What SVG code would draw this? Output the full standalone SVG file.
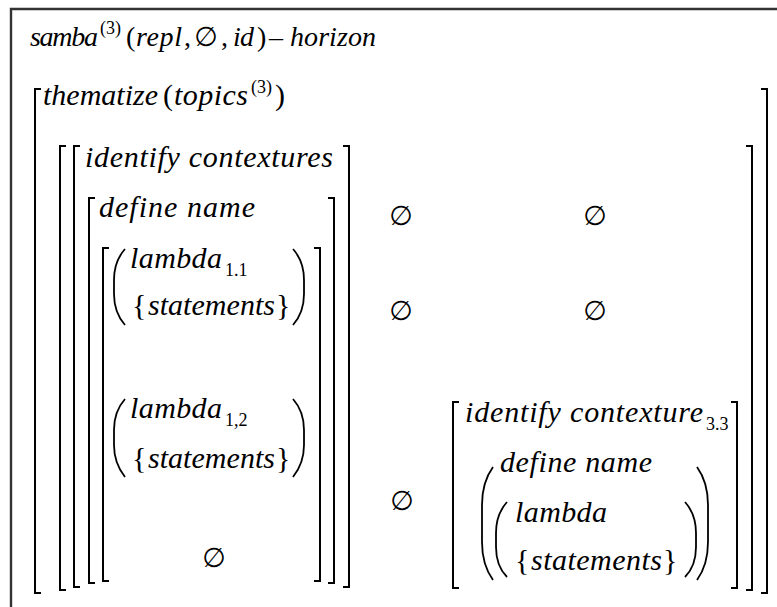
<svg xmlns="http://www.w3.org/2000/svg" width="777" height="607" viewBox="0 0 777 607">
<style>
text{font-family:"Liberation Serif","Times New Roman",serif;font-size:30px;font-style:italic;fill:#000}
.u{font-style:normal}
.sm{font-size:18px;font-style:normal}
.tt{font-size:28px}
.e{font-family:"DejaVu Sans",sans-serif;font-size:27px;font-style:normal;text-anchor:middle}
.br{fill:none;stroke:#000;stroke-width:2}
.pa{fill:none;stroke:#000;stroke-width:1.8}
.fr{fill:none;stroke:#333;stroke-width:2.4}
</style>
<rect width="777" height="607" fill="#fff"/>
<path class="fr" d="M11,607 V9 H777"/>

<g id="title">
<text class="tt" y="46"><tspan x="30" textLength="68">samba</tspan><tspan class="sm" x="100" y="34">(3)</tspan><tspan class="u" x="126" y="46">(</tspan><tspan x="136" textLength="46">repl</tspan><tspan class="u" x="184">,</tspan><tspan class="u" x="221">,</tspan><tspan x="233" textLength="21">id</tspan><tspan class="u" x="257">)</tspan><tspan class="u" x="269">–</tspan><tspan x="290" textLength="86">horizon</tspan></text>
<text class="e" x="206" y="46">∅</text>
</g>

<g id="thematize">
<text y="105"><tspan x="43" textLength="115">thematize</tspan><tspan class="u" x="163">(</tspan><tspan x="174" textLength="74">topics</tspan><tspan class="sm" x="251" y="93">(3)</tspan><tspan class="u" x="275" y="105">)</tspan></text>
</g>

<g id="brackets">
<path class="br" d="M41,89 H35 V593 H41"/>
<path class="br" d="M761,89 H767 V593 H761"/>
<path class="br" d="M66,146 H60 V590 H66"/>
<path class="br" d="M746,146 H752 V590 H746"/>
<path class="br" d="M80,146 H74 V587 H80"/>
<path class="br" d="M343,146 H349 V587 H343"/>
<path class="br" d="M95,198 H89 V583 H95"/>
<path class="br" d="M328,198 H334 V583 H328"/>
<path class="br" d="M109,248 H103 V581 H109"/>
<path class="br" d="M314,248 H320 V581 H314"/>
<path class="br" d="M459,402 H453 V588 H459"/>
<path class="br" d="M731,402 H737 V588 H731"/>
</g>

<g id="left-column">
<text x="85" y="167" textLength="248">identify contextures</text>
<text x="99" y="217" textLength="156">define name</text>
<g id="lambda11">
<path class="pa" d="M125,249 C117,258 114,268 114,280 V294 C114,306 117,316 125,325"/>
<path class="pa" d="M293,249 C301,258 304,268 304,280 V294 C304,306 301,316 293,325"/>
<text y="268"><tspan x="130" textLength="92">lambda</tspan><tspan class="sm" x="225" y="276">1.1</tspan></text>
<text y="315"><tspan class="u" x="132">{</tspan><tspan x="148" textLength="127">statements</tspan><tspan class="u" x="276">}</tspan></text>
</g>
<g id="lambda12">
<path class="pa" d="M125,399 C117,408 114,418 114,430 V445 C114,457 117,467 125,477"/>
<path class="pa" d="M293,399 C301,408 304,418 304,430 V445 C304,457 301,467 293,477"/>
<text y="418"><tspan x="130" textLength="92">lambda</tspan><tspan class="sm" x="225" y="426">1,2</tspan></text>
<text y="468"><tspan class="u" x="132">{</tspan><tspan x="148" textLength="127">statements</tspan><tspan class="u" x="276">}</tspan></text>
</g>
<text class="e" x="214" y="567">∅</text>
</g>

<g id="empty-cells">
<text class="e" x="401" y="225">∅</text>
<text class="e" x="595" y="225">∅</text>
<text class="e" x="401" y="320">∅</text>
<text class="e" x="595" y="320">∅</text>
<text class="e" x="402" y="510">∅</text>
</g>

<g id="contexture33">
<text y="422"><tspan x="465" textLength="238">identify contexture</tspan><tspan class="sm" x="706" y="430">3.3</tspan></text>
<path class="pa" d="M493,467 C485,478 482,490 482,505 V542 C482,557 485,569 493,580"/>
<path class="pa" d="M697,467 C705,478 708,490 708,505 V542 C708,557 705,569 697,580"/>
<text x="500" y="472" textLength="152">define name</text>
<path class="pa" d="M507,502 C499,511 496,521 496,533 V547 C496,559 499,569 507,577"/>
<path class="pa" d="M685,502 C693,511 696,521 696,533 V547 C696,559 693,569 685,577"/>
<text x="515" y="522" textLength="92">lambda</text>
<text y="570"><tspan class="u" x="515">{</tspan><tspan x="531" textLength="131">statements</tspan><tspan class="u" x="663">}</tspan></text>
</g>
</svg>
